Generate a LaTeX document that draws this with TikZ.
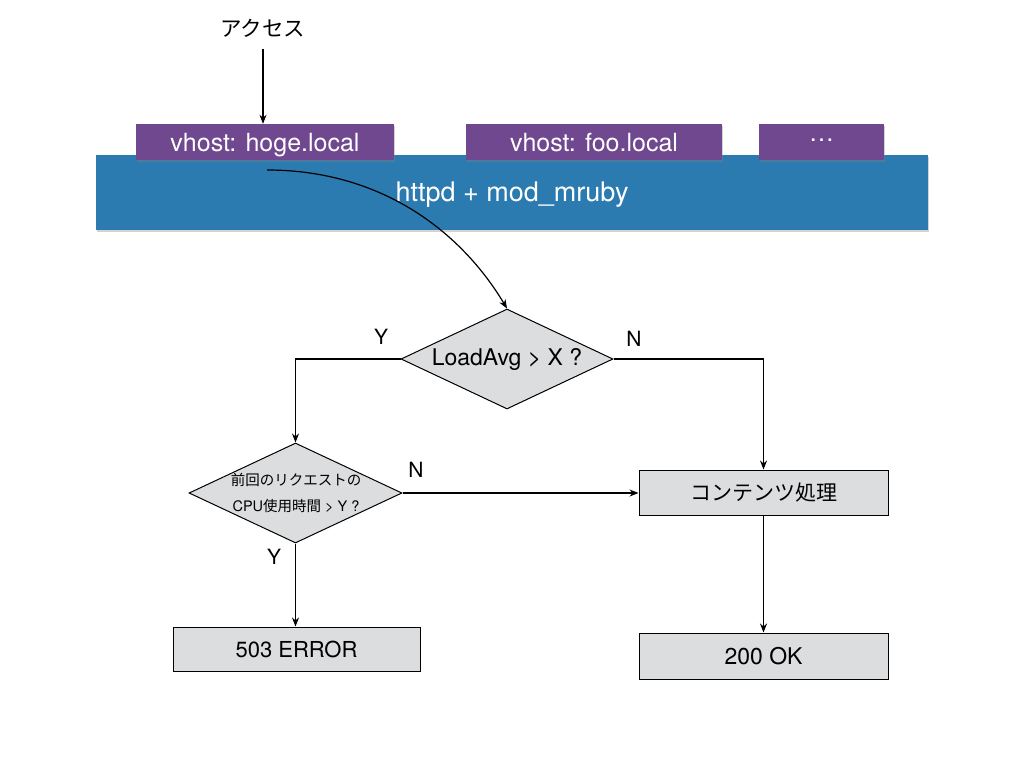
\documentclass[tikz,border=0pt]{standalone}
\usepackage{fontspec}
\setmainfont{TeX Gyre Heros}
\newfontfamily\jp{Noto Sans CJK JP}
\usetikzlibrary{shapes.geometric,arrows.meta,shadows}
\definecolor{band}{HTML}{2C7BB0}
\definecolor{vhost}{HTML}{6F4890}
\definecolor{boxgray}{HTML}{DCDDDF}
\tikzset{
  vbox/.style={draw=none,fill=vhost,text=white,minimum height=36pt,inner sep=0pt,font=\fontsize{25}{28}\selectfont,drop shadow={shadow xshift=1pt,shadow yshift=-2pt,opacity=0.35}},
  dia/.style={diamond,draw=black,line width=1pt,fill=boxgray,aspect=2.12,inner sep=0pt},
  pbox/.style={draw=black,line width=1pt,fill=boxgray,minimum width=248pt,minimum height=45pt,inner sep=0pt,font=\fontsize{22}{25}\selectfont},
  conn/.style={line width=1.2pt,-{Stealth[length=9pt,width=7pt]}},
  lbl/.style={font=\fontsize{21}{24}\selectfont},
}
\begin{document}
\begin{tikzpicture}[x=1pt,y=-1pt]
\useasboundingbox (0,0) rectangle (1024,768);
% band
\node[fill=band,minimum width=832pt,minimum height=75pt,inner sep=0pt,drop shadow={shadow xshift=1pt,shadow yshift=-2pt,opacity=0.35}] (httpd) at (512,192.5) {};
\node[text=white,font=\fontsize{27}{30}\selectfont,text height=19pt,text depth=2pt] (httpdlbl) at (512,193) {httpd + mod\_mruby};
% vhosts
\node[vbox,minimum width=258pt,text height=19pt,text depth=1pt] (hoge) at (265,142) {vhost: hoge.local};
\node[vbox,minimum width=256pt,text height=19pt,text depth=1pt] (foo) at (594,142) {vhost: foo.local};
\node[vbox,minimum width=125pt] (more) at (821.5,142) {\raisebox{3pt}{…}};
% access
\node[font=\fontsize{21.5}{24}\selectfont] (access) at (263,28) {\jp アクセス};
\draw[conn] (access.south) ++(0,8) coordinate (acs) -- (hoge.north -| acs);
% diamonds
\node[dia,minimum width=212pt,minimum height=100pt] (d1) at (507,359) {};
\node[font=\fontsize{23}{26}\selectfont] (d1t) at (507,359) {LoadAvg > X ?};
\node[dia,minimum width=213pt,minimum height=100pt] (d2) at (295.5,493) {};
\node[font=\fontsize{14.5}{26}\selectfont,align=center] (d2t) at (296,493) {{\jp 前回のリクエストの}\\CPU{\jp 使用時間} > Y ?};
% boxes
\node[pbox,minimum width=247pt,minimum height=44pt] (err) at (296.5,649) {503 ERROR};
\node[pbox,minimum width=249pt] (proc) at (763.5,492.5) {\jp\fontsize{21}{24}\selectfont コンテンツ処理};
\node[pbox,minimum width=249pt,minimum height=46pt] (ok) at (763.5,656) {\fontsize{23}{26}\selectfont 200 OK};
% curve
\coordinate (cstart) at (267,170);
\draw[conn] (cstart) .. controls (380,170) and (460,230) .. (d1.north);
% connectors
\draw[conn] (d1.west) -| (d2.north);
\draw[conn] (d1.east) -| (proc.north);
\draw[conn] (d2.east) -- (proc.west |- d2.east);
\draw[conn] (d2.south) -- (err.north -| d2.south);
\draw[conn] (proc.south) -- (ok.north);
% labels
\node[lbl] (y1) at (381,337) {Y};
\node[lbl] (n1) at (634,339) {N};
\node[lbl] (n2) at (416,470) {N};
\node[lbl] (y2) at (274,557) {Y};
\end{tikzpicture}
\end{document}
